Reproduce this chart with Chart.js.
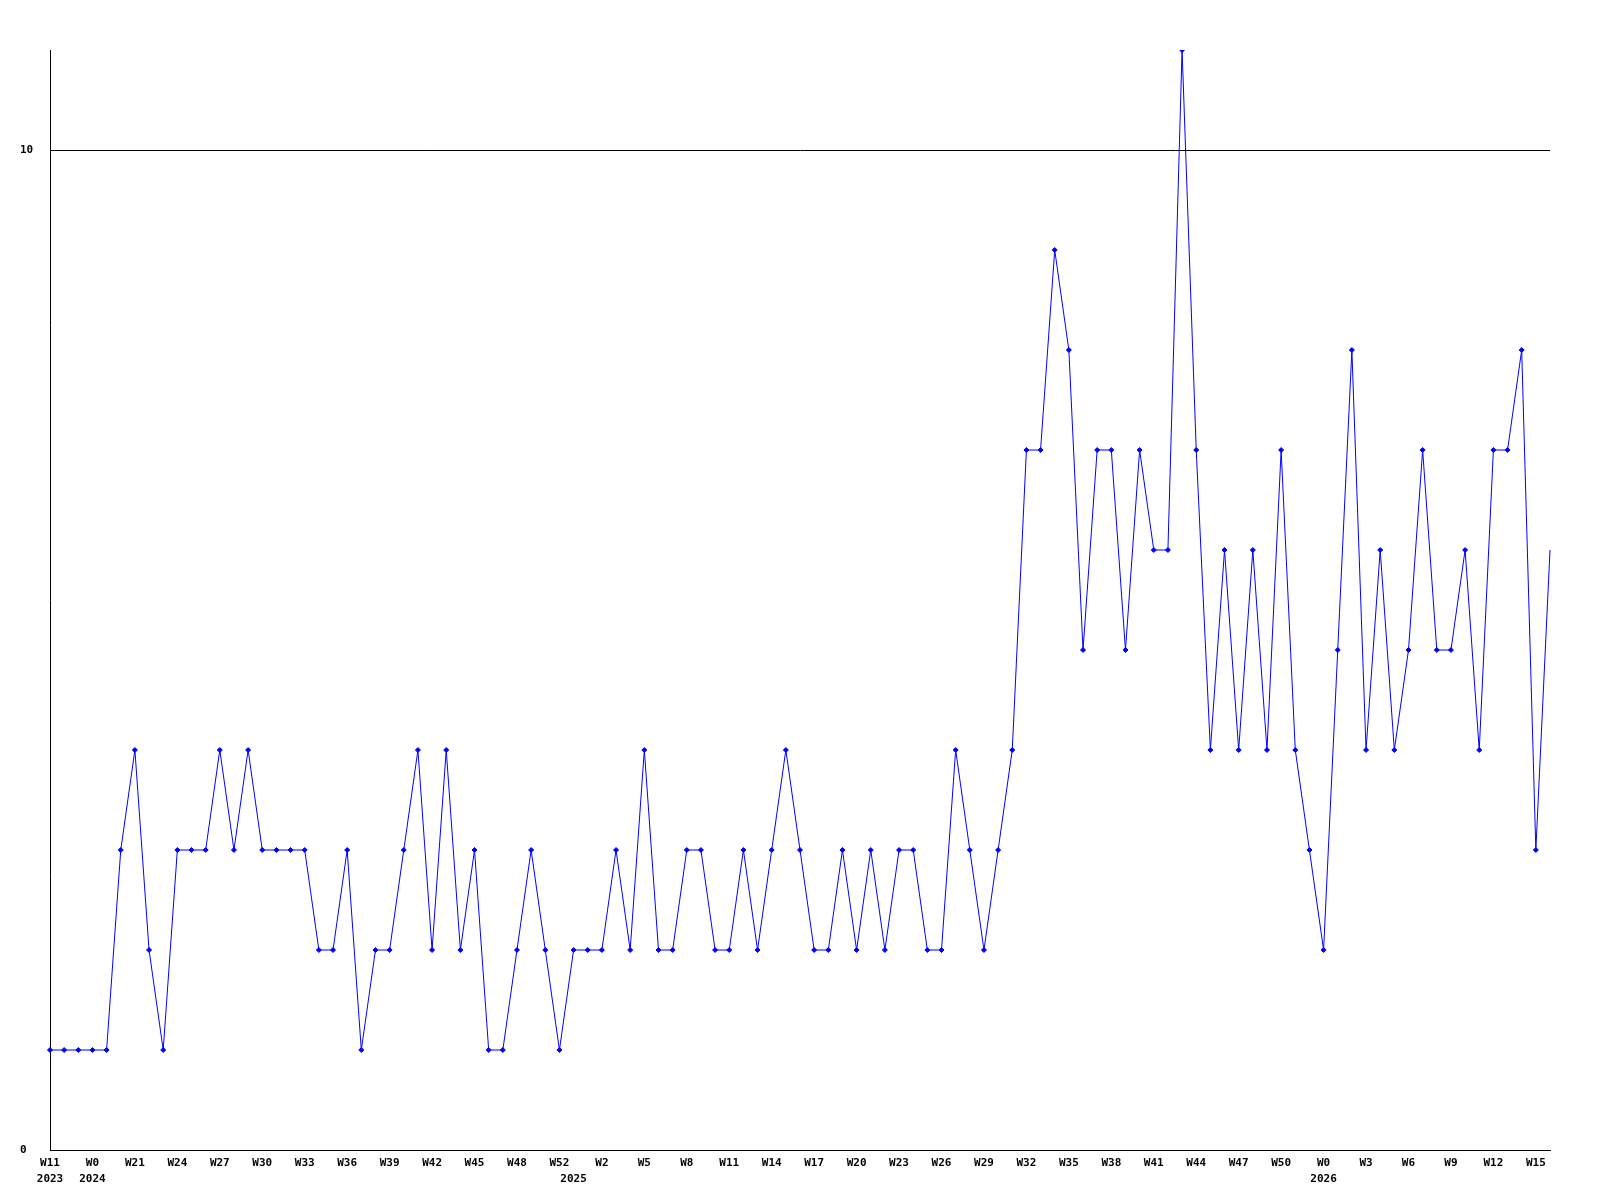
<!DOCTYPE html>
<html>
<head>
<meta charset="utf-8">
<script src="https://cdn.jsdelivr.net/npm/chart.js@4/dist/chart.umd.min.js"></script>
<style>
  body { margin: 0; background: #fff; }
  #chart { display: block; }
</style>
</head>
<body>
<canvas id="chart" width="1600" height="1200"></canvas>
<script>
// one value per week
const values = [
  1, 1, 1, 1, 1, 3, 4, 2, 1, 3,
  3, 3, 4, 3, 4, 3, 3, 3, 3, 2,
  2, 3, 1, 2, 2, 3, 4, 2, 4, 2,
  3, 1, 1, 2, 3, 2, 1, 2, 2, 2,
  3, 2, 4, 2, 2, 3, 3, 2, 2, 3,
  2, 3, 4, 3, 2, 2, 3, 2, 3, 2,
  3, 3, 2, 2, 4, 3, 2, 3, 4, 7,
  7, 9, 8, 5, 7, 7, 5, 7, 6, 6,
  11, 7, 4, 6, 4, 6, 4, 7, 4, 3,
  2, 5, 8, 4, 6, 4, 5, 7, 5, 5,
  6, 4, 7, 7, 8, 3, 6
];

// week label shown on every third point
const weekTicks = ['W11', 'W0', 'W21', 'W24', 'W27', 'W30', 'W33', 'W36', 'W39', 'W42',
  'W45', 'W48', 'W52', 'W2', 'W5', 'W8', 'W11', 'W14', 'W17', 'W20',
  'W23', 'W26', 'W29', 'W32', 'W35', 'W38', 'W41', 'W44', 'W47', 'W50',
  'W0', 'W3', 'W6', 'W9', 'W12', 'W15'];

// year labels on the second line
const yearIndex = [0, 3, 37, 90];
const yearText = ['2023', '2024', '2025', '2026'];

const yTicks = [0, 10];

var labels = values.map((v, i) => {
  let week = i % 3 === 0 ? weekTicks[i / 3] : '';
  let y = yearIndex.indexOf(i);
  return [week, y >= 0 ? yearText[y] : ''];
});

const FONT = { family: '"DejaVu Sans Mono", monospace', size: 11, weight: 'bold', lineHeight: '16px' };

new Chart('chart', {
  type: 'line',
  data: {
    labels: labels,
    datasets: [{
      data: values,
      borderColor: '#0000ff',
      backgroundColor: '#0000ff',
      borderWidth: 1,
      tension: 0,
      fill: false,
      pointStyle: 'rectRot',
      pointRadius: ctx => ctx.dataIndex === values.length - 1 ? 0 : 2.5,
      pointBorderWidth: 1
    }]
  },
  options: {
    responsive: false,
    devicePixelRatio: 1,
    animation: false,
    events: [],
    layout: { padding: { top: 50, right: 50, left: 20, bottom: 0 } },
    plugins: { legend: { display: false }, tooltip: { enabled: false } },
    scales: {
      x: {
        type: 'category',
        offset: false,
        grid: { display: false, drawTicks: false },
        border: { display: true, color: '#000', width: 1 },
        ticks: {
          autoSkip: false, maxRotation: 0, minRotation: 0,
          color: '#000', font: FONT, padding: 5
        },
        afterFit: s => { s.height = 50; }
      },
      y: {
        min: 0, max: 11,
        grid: { color: '#000', lineWidth: 1, drawTicks: false },
        border: { display: true, color: '#000', width: 1 },
        ticks: { color: '#000', font: FONT, crossAlign: 'far', padding: 0 },
        afterBuildTicks: s => { s.ticks = yTicks.map(v => ({ value: v })); },
        afterFit: s => { s.width = 30; }
      }
    }
  }
});
</script>
</body>
</html>
